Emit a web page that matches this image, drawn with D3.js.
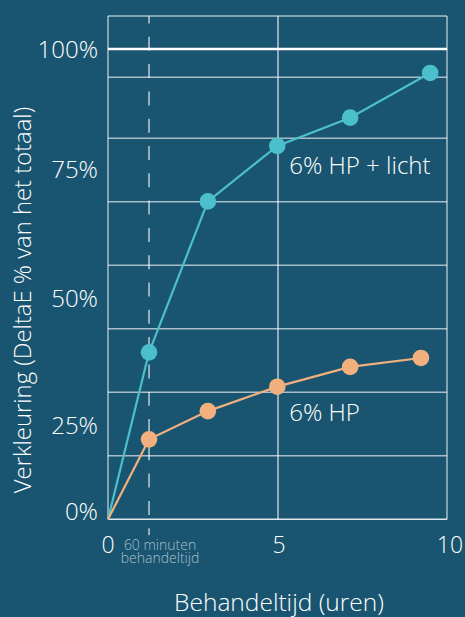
<!DOCTYPE html>
<html>
<head>
<meta charset="utf-8">
<script src="https://cdn.jsdelivr.net/npm/d3@7/dist/d3.min.js"></script>
<style>
  html, body { margin: 0; padding: 0; background: #195570; }
  svg { display: block; font-family: "Open Sans", sans-serif; }
</style>
</head>
<body>
<svg id="chart" width="465" height="617"></svg>
<script>
// hours of treatment
const litHours = [0, 1.2, 2.92, 4.95, 7.08, 9.42];
const litValues = [0, 35.5, 67.6, 79.4, 85.4, 94.9];
const hpHours = [0, 1.2, 2.92, 4.95, 7.08, 9.15];
const hpValues = [0, 17.0, 23.0, 28.2, 32.4, 34.3];

const seriesNames = ["6% HP + licht", "6% HP"];
const xTicks = [0, 5, 10];
const yTickLabels = ["0%", "25%", "50%", "75%", "100%"];
const yTickAt = [1.7, 20, 47, 74.5, 100]; // where the labels sit on the value axis
const gridValues = [13.5, 27, 40.5, 54, 67.5, 81, 94];
const markerHour = 1.2;
const markerLabel = ["60 minuten", "behandeltijd"];
const xTitle = "Behandeltijd (uren)";
const yTitle = "Verkleuring (DeltaE % van het totaal)";

const svg = d3.select("#chart");
const x = d3.scaleLinear().domain([0, 10]).range([108, 450]);
const y = d3.scaleLinear().domain([0, 100]).range([519.3, 49]);
const yTop = 107;

const gridColor = "rgba(255,255,255,0.62)";
const teal = "#4cbfcc", peach = "#f2b07e";

// frame + grid
const grid = svg.append("g");
grid.selectAll("line.h")
  .data(gridValues.concat([yTop]))
  .enter().append("line")
  .attr("x1", x(0)).attr("x2", x(10) - 3)
  .attr("y1", d => y(d)).attr("y2", d => y(d))
  .attr("stroke", gridColor).attr("stroke-width", 1.5);
grid.append("line")
  .attr("x1", x(0)).attr("x2", x(0))
  .attr("y1", y(yTop)).attr("y2", y(0))
  .attr("stroke", gridColor).attr("stroke-width", 1.5);
grid.append("line")
  .attr("x1", x(10) - 3).attr("x2", x(10) - 3)
  .attr("y1", y(yTop)).attr("y2", y(0))
  .attr("stroke", gridColor).attr("stroke-width", 1.5);
grid.append("line")
  .attr("x1", x(5) - 1).attr("x2", x(5) - 1)
  .attr("y1", y(yTop)).attr("y2", y(0))
  .attr("stroke", "rgba(255,255,255,0.8)").attr("stroke-width", 1.3);
// bottom axis and 100% line
grid.append("line")
  .attr("x1", x(0)).attr("x2", x(10) - 3)
  .attr("y1", y(0)).attr("y2", y(0))
  .attr("stroke", "rgba(255,255,255,0.85)").attr("stroke-width", 1.5);
grid.append("line")
  .attr("x1", x(0)).attr("x2", x(10) - 3)
  .attr("y1", y(100)).attr("y2", y(100))
  .attr("stroke", "#ffffff").attr("stroke-width", 2.5);

// 60 minute marker
svg.append("line")
  .attr("x1", x(markerHour)).attr("x2", x(markerHour))
  .attr("y1", y(yTop)).attr("y2", y(0) + 16)
  .attr("stroke", "rgba(255,255,255,0.7)").attr("stroke-width", 1.5)
  .attr("stroke-dasharray", "14 13.3").attr("stroke-dashoffset", 6.6);
svg.append("text")
  .attr("text-anchor", "middle")
  .attr("fill", "#a9bfca").attr("font-size", 14).attr("font-weight", 300)
  .selectAll("tspan").data(markerLabel).enter().append("tspan")
  .attr("x", x(markerHour) + 11).attr("y", (d, i) => 550 + i * 12.5)
  .text(d => d);

// series
const series = [
  { name: seriesNames[0], color: teal, pts: litHours.map((h, i) => [h, litValues[i]]), dy: 28 },
  { name: seriesNames[1], color: peach, pts: hpHours.map((h, i) => [h, hpValues[i]]), dy: 34 }
];
const line = d3.line().x(d => x(d[0])).y(d => y(d[1]));

series.forEach(s => {
  svg.append("path")
    .attr("d", line(s.pts))
    .attr("fill", "none").attr("stroke", s.color).attr("stroke-width", 2.2);
  svg.selectAll(null)
    .data(s.pts.slice(1))
    .enter().append("circle")
    .attr("cx", d => x(d[0])).attr("cy", d => y(d[1]))
    .attr("r", 8.3).attr("fill", s.color);
  const lp = s.pts[3];
  svg.append("text")
    .attr("x", x(lp[0]) + 12).attr("y", y(lp[1]) + s.dy)
    .attr("fill", "#ffffff").attr("font-size", 24).attr("font-weight", 300)
    .text(s.name);
});

// tick labels
svg.selectAll("text.ytick")
  .data(yTickLabels)
  .enter().append("text")
  .attr("class", "ytick")
  .attr("x", 98).attr("y", (d, i) => y(yTickAt[i]))
  .attr("dy", "0.36em")
  .attr("text-anchor", "end")
  .attr("fill", "#ffffff").attr("font-size", 24).attr("font-weight", 300)
  .text(d => d);

svg.selectAll("text.xtick")
  .data(xTicks)
  .enter().append("text")
  .attr("class", "xtick")
  .attr("x", d => x(d)).attr("y", 553)
  .attr("text-anchor", "middle")
  .attr("fill", "#ffffff").attr("font-size", 23).attr("font-weight", 300)
  .text(d => d);

// titles
svg.append("text")
  .attr("x", 279).attr("y", 611)
  .attr("text-anchor", "middle")
  .attr("fill", "#ffffff").attr("font-size", 24.5).attr("font-weight", 300)
  .text(xTitle);
svg.append("text")
  .attr("transform", "translate(31,300) rotate(-90)")
  .attr("text-anchor", "middle")
  .attr("fill", "#ffffff").attr("font-size", 23.8).attr("font-weight", 300)
  .text(yTitle);
</script>
</body>
</html>
